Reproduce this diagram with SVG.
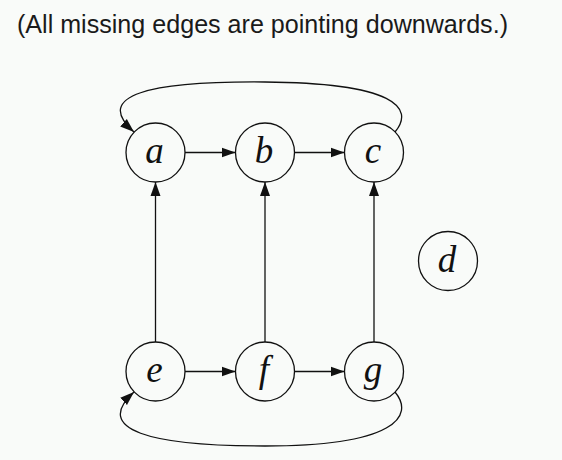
<svg xmlns="http://www.w3.org/2000/svg" width="562" height="460" viewBox="0 0 562 460">
<defs>
<marker id="arr" markerUnits="userSpaceOnUse" markerWidth="16" markerHeight="12" refX="14" refY="5.5" orient="auto">
<path d="M0,0.5 L14,5.5 L0,10.5 Z" fill="#111"/>
</marker>
<style>
.n circle{fill:none;stroke:#111;stroke-width:1.3}
.n text{font-family:"Liberation Serif","DejaVu Serif",serif;font-style:italic;font-size:37px;fill:#111;text-anchor:middle}
.e path,.e line{fill:none;stroke:#111;stroke-width:1.3}
.t{font-family:"Liberation Sans",Arial,sans-serif;font-size:25px;fill:#1a1a1a}
</style>
</defs>
<rect width="562" height="460" fill="#f9fbf9"/>
<text class="t" x="17" y="33" textLength="491" lengthAdjust="spacingAndGlyphs">(All missing edges are pointing downwards.)</text>
<g id="nodes">
<g id="a" class="n"><circle cx="155.5" cy="152.5" r="29.5"/><text x="154.5" y="163">a</text></g>
<g id="b" class="n"><circle cx="265" cy="152.5" r="29.5"/><text x="264" y="163">b</text></g>
<g id="c" class="n"><circle cx="374" cy="152.5" r="29.5"/><text x="373" y="163">c</text></g>
<g id="d" class="n"><circle cx="448" cy="261" r="29.5"/><text x="447" y="272">d</text></g>
<g id="e" class="n"><circle cx="155.5" cy="371.5" r="29.5"/><text x="154.5" y="382">e</text></g>
<g id="f" class="n"><circle cx="265" cy="371.5" r="29.5"/><text x="264" y="382">f</text></g>
<g id="g" class="n"><circle cx="374" cy="371.5" r="29.5"/><text x="373" y="382">g</text></g>
</g>
<g id="edges" class="e">
<line x1="185" y1="152.5" x2="235.5" y2="152.5" marker-end="url(#arr)"/>
<line x1="294.5" y1="152.5" x2="344.5" y2="152.5" marker-end="url(#arr)"/>
<line x1="185" y1="371.5" x2="235.5" y2="371.5" marker-end="url(#arr)"/>
<line x1="294.5" y1="371.5" x2="344.5" y2="371.5" marker-end="url(#arr)"/>
<line x1="155.5" y1="342" x2="155.5" y2="182" marker-end="url(#arr)"/>
<line x1="265" y1="342" x2="265" y2="182" marker-end="url(#arr)"/>
<line x1="374" y1="342" x2="374" y2="182" marker-end="url(#arr)"/>
<path d="M395,132 C415,108 395,83 265,82 C150,81 92,95 134,132" marker-end="url(#arr)"/>
<path d="M395,392 C415,416 395,446 265,446 C150,446 92,430 134,392" marker-end="url(#arr)"/>
</g>
</svg>
